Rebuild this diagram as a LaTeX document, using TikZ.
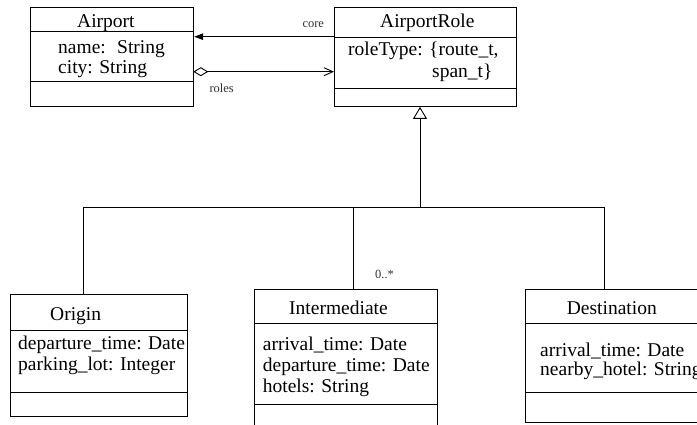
\documentclass[tikz,border=0pt]{standalone}
\usepackage{fontspec}
\setmainfont{Liberation Serif}
\usetikzlibrary{arrows.meta}

\tikzset{
  classbox/.style={draw, line width=0.9pt, anchor=north west, inner sep=0pt},
  sepline/.style={line width=0.9pt},
  conn/.style={line width=0.9pt},
  txt/.style={anchor=base west, inner sep=0pt, font=\fontsize{19.5}{22}\selectfont},
  lbl/.style={anchor=base west, inner sep=0pt, font=\fontsize{12.5}{14}\selectfont, text=black!80},
}

\begin{document}
\begin{tikzpicture}[x=1pt, y=-1pt]
  \clip (0,0) rectangle (697,425);
  \fill[white] (0,0) rectangle (697,425);

  % ---- class boxes ----
  \node[classbox, minimum width=163.3pt, minimum height=98.4pt] (airport) at (30,7.3) {};
  \draw[sepline] (30,31.3) -- (193.3,31.3);
  \draw[sepline] (30,81.7) -- (193.3,81.7);

  \node[classbox, minimum width=181.7pt, minimum height=98.7pt] (role) at (334,7.3) {};
  \draw[sepline] (334,37) -- (515.7,37);
  \draw[sepline] (334,88.3) -- (515.7,88.3);

  \node[classbox, minimum width=177pt, minimum height=121.4pt] (orig) at (10,294.3) {};
  \draw[sepline] (10,330) -- (187,330);
  \draw[sepline] (10,392.3) -- (187,392.3);

  \node[classbox, minimum width=183pt, minimum height=160pt] (inter) at (254,289) {};
  \draw[sepline] (254,323.3) -- (437,323.3);
  \draw[sepline] (254,404.3) -- (437,404.3);

  \node[classbox, minimum width=200pt, minimum height=132.7pt] (dest) at (525,289) {};
  \draw[sepline] (525,323.3) -- (725,323.3);
  \draw[sepline] (525,392.3) -- (725,392.3);

  % ---- class texts ----
  \node[txt] (airportT) at (77,27.7) {Airport};
  \node[txt] (airportA1) at (58,53.3) {name:~ String};
  \node[txt] (airportA2) at (58,74) {city: String};

  \node[txt] (roleT) at (380,27.7) {AirportRole};
  \node[txt] (roleA1) at (348,56) {roleType: \{route\_t,};
  \node[txt] (roleA2) at (432,77.3) {span\_t\}};

  \node[txt] (origT) at (50,320.7) {Origin};
  \node[txt] (origA1) at (18,349) {departure\_time: Date};
  \node[txt] (origA2) at (18,370.7) {parking\_lot: Integer};

  \node[txt] (interT) at (289,314.3) {Intermediate};
  \node[txt] (interA1) at (262.7,350) {arrival\_time: Date};
  \node[txt] (interA2) at (262.7,371.7) {departure\_time: Date};
  \node[txt] (interA3) at (262.7,392.5) {hotels: String};

  \node[txt] (destT) at (566.7,314.3) {Destination};
  \node[txt] (destA1) at (540,356) {arrival\_time: Date};
  \node[txt] (destA2) at (540,375.7) {nearby\_hotel: String};

  % ---- associations ----
  \coordinate (coreS) at (334,36.7);
  \draw[conn, -{Triangle[length=9pt,width=6.5pt]}] (coreS) -- (airport.east |- coreS);
  \node[lbl] (coreL) at (302.3,27.5) {core};

  \coordinate (rolesS) at (193.3,71.7);
  \draw[conn, {Diamond[open,length=15pt,width=9pt,line width=0.9pt]}-{Straight Barb[length=9pt,width=8pt]}]
    (rolesS) -- (role.west |- rolesS);
  \node[lbl] (rolesL) at (209.3,92.7) {roles};

  % ---- generalization ----
  \coordinate (gen) at (420,207);
  \draw[conn, -{Triangle[open,length=12pt,width=14pt,line width=0.9pt]}] (gen) -- (gen |- role.south);
  \coordinate (barL) at (83,207);
  \coordinate (barM) at (353,207);
  \coordinate (barR) at (604,207);
  \draw[conn] (barL) -- (barR);
  \draw[conn] (barL) -- (barL |- orig.north);
  \draw[conn] (barM) -- (barM |- inter.north);
  \draw[conn] (barR) -- (barR |- dest.north);
  \node[lbl] (multL) at (375,279) {0..*};
\end{tikzpicture}
\end{document}
